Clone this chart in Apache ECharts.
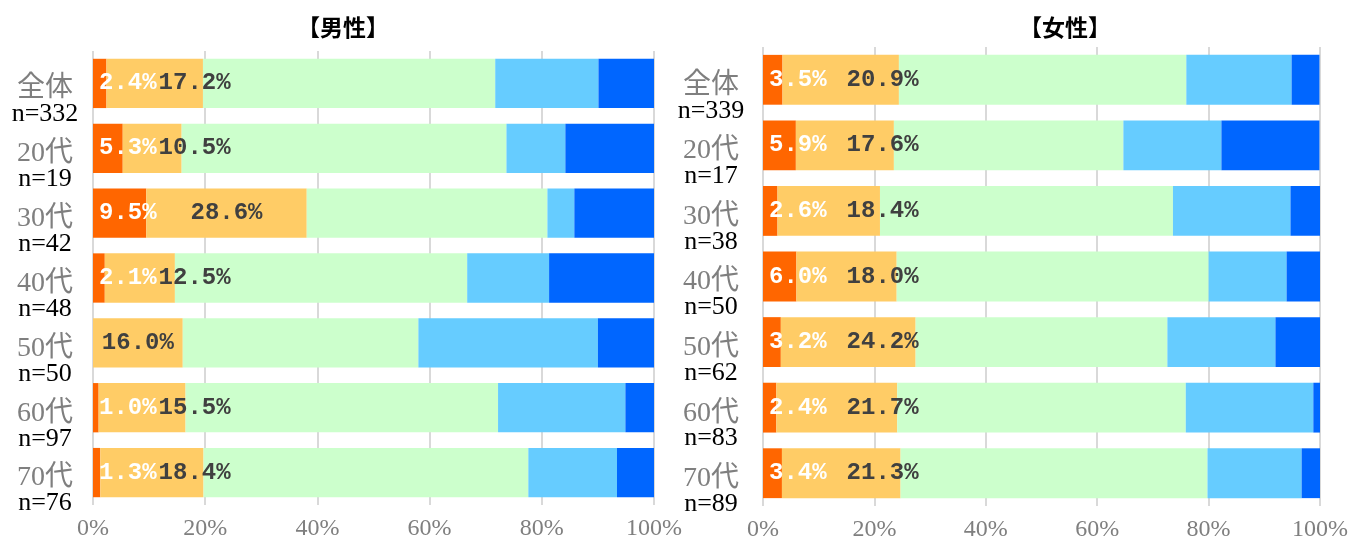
<!DOCTYPE html>
<html><head><meta charset="utf-8">
<script src="https://cdn.jsdelivr.net/npm/echarts@6/dist/echarts.min.js"></script>
<style>html,body{margin:0;padding:0;background:#fff}#c{width:1368px;height:552px}</style>
</head><body><div id="c"></div>
<script>
const categories = ['全体','20代','30代','40代','50代','60代','70代'];
const maleN   = [332,19,42,48,50,97,76];
const femaleN = [339,17,38,50,62,83,89];
const seriesNames = ['回答1','回答2','回答3','回答4','回答5'];
const titles = ['【男性】','【女性】'];
const xTicks = [0,20,40,60,80,100];

const male1 = [2.4,5.3,9.5,2.1,0,1.0,1.3];
const male2 = [17.2,10.5,28.6,12.5,16.0,15.5,18.4];
const male3 = [52.1,57.9,42.9,52.1,42.0,55.7,57.9];
const male4 = [18.4,10.5,4.8,14.6,32.0,22.7,15.8];
const male5 = [9.9,15.8,14.3,18.8,10.0,5.2,6.6];

const female1 = [3.5,5.9,2.6,6.0,3.2,2.4,3.4];
const female2 = [20.9,17.6,18.4,18.0,24.2,21.7,21.3];
const female3 = [51.6,41.2,52.6,56.0,45.2,51.8,55.1];
const female4 = [18.9,17.6,21.1,14.0,19.4,22.9,16.9];
const female5 = [5.0,17.6,5.3,6.0,8.1,1.2,3.4];

const colors = ['#FF6600','#FFCC66','#CCFFCC','#66CCFF','#0066FF'];
const LABEL_FONT = 'Liberation Mono';
const LABEL_SIZE = 24;
const LABEL_WEIGHT = 'bold';
const SERIF = '"Liberation Serif","Noto Sans CJK JP",serif';

const ctx = document.createElement('canvas').getContext('2d');
ctx.font = LABEL_WEIGHT + ' ' + LABEL_SIZE + 'px "' + LABEL_FONT + '"';
function fmt(v){ return v > 0 ? v.toFixed(1) + '%' : ''; }
function tw(s){ return s ? ctx.measureText(s).width : 0; }

const grids = [
  {left: 93, right: 714, top: 51, bottom: 47, gap: 2, labelMargin: 48, n: maleN, titleX: 343,
   data: [male1,male2,male3,male4,male5]},
  {left: 763, right: 48, top: 47, bottom: 46, gap: 20, labelMargin: 52, n: femaleN, titleX: 1065,
   data: [female1,female2,female3,female4,female5]}
];

const option = {
  animation: false,
  graphic: [],
  grid: [], xAxis: [], yAxis: [], series: []
};

grids.forEach((g, gi) => {
  const width = 1368 - g.left - g.right;
  const scale = width / 100;
  option.graphic.push({
    type: 'text', x: g.titleX, y: 27,
    style: {text: titles[gi], fill: '#000', font: 'bold 23px "Noto Sans CJK JP"',
            align: 'center', verticalAlign: 'middle', textAlign: 'center', textVerticalAlign: 'middle'}
  });
  option.grid.push({left: g.left, right: g.right, top: g.top, bottom: g.bottom, containLabel: false});
  option.xAxis.push({
    type: 'value', gridIndex: gi, min: xTicks[0], max: xTicks[xTicks.length-1], interval: 20,
    axisLine: {show: false}, axisTick: {show: false},
    splitLine: {show: true, lineStyle: {color: '#d9d9d9', width: 2}},
    axisLabel: {formatter: '{value}%', color: '#7f7f7f', fontSize: 24, fontFamily: SERIF, margin: 12}
  });
  option.yAxis.push({
    type: 'category', gridIndex: gi, data: categories, inverse: true,
    axisLine: {show: false}, axisTick: {show: false},
    axisLabel: {
      interval: 0, align: 'center', margin: g.labelMargin,
      formatter: (val, idx) => '{b| }\n{a|' + val + '}\n{n|n=' + g.n[idx] + '}',
      rich: {
        b: {fontSize: 10, lineHeight: 34, height: 34},
        a: {fontSize: 28, lineHeight: 28, color: '#7f7f7f', fontFamily: SERIF},
        n: {fontSize: 26, lineHeight: 23, color: '#000', fontFamily: SERIF}
      }
    }
  });
  g.data.forEach((arr, si) => {
    let data;
    if (si === 0) {
      data = arr.map(v => ({value: v, label: {position: [6, '50%']}}));
    } else if (si === 1) {
      data = arr.map((v, i) => {
        const v1 = g.data[0][i];
        const w2 = v * scale;
        const L2 = tw(fmt(v));
        let dx = (w2 - L2) / 2;
        if (v1 > 0) {
          const l1End = 6 + tw(fmt(v1)) + g.gap;
          dx = Math.max(dx, l1End - v1 * scale);
        }
        return {value: v, label: {position: [dx, '50%']}};
      });
    } else {
      data = arr.slice();
    }
    option.series.push({
      name: seriesNames[si], type: 'bar', stack: 'g' + gi,
      xAxisIndex: gi, yAxisIndex: gi,
      barCategoryGap: '24%',
      itemStyle: {color: colors[si]},
      data: data,
      label: si < 2 ? {
        show: true, align: 'left', verticalAlign: 'middle',
        formatter: p => fmt(p.value),
        color: si === 0 ? '#ffffff' : '#404040',
        fontSize: LABEL_SIZE, fontFamily: LABEL_FONT, fontWeight: LABEL_WEIGHT
      } : {show: false}
    });
  });
});

const chart = echarts.init(document.getElementById('c'), null, {renderer: 'canvas'});
chart.setOption(option);
</script>
</body></html>
